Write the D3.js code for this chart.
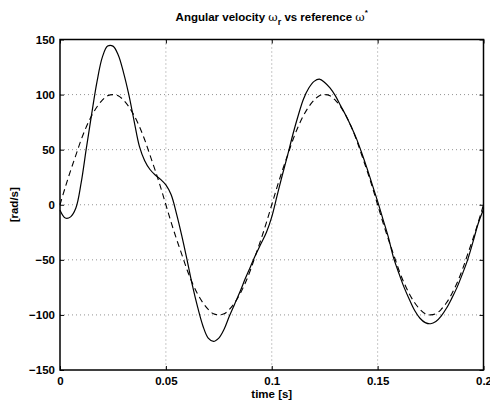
<!DOCTYPE html>
<html><head><meta charset="utf-8">
<script src="https://cdn.jsdelivr.net/npm/d3@7"></script>
<style>
body{margin:0;background:#fff;}
text{font-family:"Liberation Sans",Arial,Helvetica,sans-serif;font-weight:bold;}
</style></head>
<body><svg id="chart" width="490" height="403"></svg>
<script>
// time samples (s)
const timeStep = 0.0025;
const timeValues = d3.range(0, 81).map(i => +(i * timeStep).toFixed(4));
const omegaR = [-5,-12,-11,-3,20,52,83,112,134,144,144,136,120,100,76,53,40,32,27,23,18,9,-8,-28,-50,-73,-93,-110,-121,-124,-121,-113,-101,-90,-79,-67,-56,-45,-35,-25,-11,8,27,45,64,81,96,106,112,114,111,106,99,90,81,71,60,47,33,18,3,-13,-29,-48,-62,-75,-86,-96,-103,-107,-108,-106,-101,-94,-85,-75,-63,-50,-34,-17,-4];
// reference omega* (rad/s)
const omegaRef = [0,16,31,45,59,71,81,89,95,99,100,99,95,89,81,71,59,45,31,16,0,-16,-31,-45,-59,-71,-81,-89,-95,-99,-100,-99,-95,-89,-81,-71,-59,-45,-31,-16,0,16,31,45,59,71,81,89,95,99,100,99,95,89,81,71,59,45,31,16,0,-16,-31,-45,-59,-71,-81,-89,-95,-99,-100,-99,-95,-89,-81,-71,-59,-45,-31,-16,0];
const xTicks = [0, 0.05, 0.1, 0.15, 0.2];
const xTickLabels = ["0", "0.05", "0.1", "0.15", "0.2"];
const yTicks = [-150, -100, -50, 0, 50, 100, 150];
const yTickLabels = ["\u2212150", "\u2212100", "\u221250", "0", "50", "100", "150"];

const svg = d3.select("#chart");
const L = 60, R = 483.5, T = 39.5, B = 370;
const x = d3.scaleLinear().domain([0, 0.2]).range([L, R]);
const y = d3.scaleLinear().domain([-150, 150]).range([B, T]);

// grid
const grid = svg.append("g").attr("stroke", "#777").attr("stroke-width", 0.8).attr("stroke-dasharray", "1,3");
grid.selectAll(".gx").data(xTicks.slice(1, -1)).enter().append("line")
  .attr("x1", d => x(d)).attr("x2", d => x(d)).attr("y1", T).attr("y2", B);
grid.selectAll(".gy").data(yTicks.slice(1, -1)).enter().append("line")
  .attr("y1", d => y(d)).attr("y2", d => y(d)).attr("x1", L).attr("x2", R);

// lines
const line = d3.line().x((d, i) => x(timeValues[i])).y(d => y(d)).curve(d3.curveCatmullRom.alpha(0.5));
svg.append("path").datum(omegaRef).attr("d", line).attr("fill", "none")
  .attr("stroke", "#000").attr("stroke-width", 1.1).attr("stroke-dasharray", "6,4");
svg.append("path").datum(omegaR).attr("d", line).attr("fill", "none")
  .attr("stroke", "#000").attr("stroke-width", 1.2);

// axes (ticks inside)
const xAxis = d3.axisBottom(x).tickValues(xTicks).tickFormat((d, i) => xTickLabels[i]).tickSizeInner(-4).tickSizeOuter(0).tickPadding(7);
const gx = svg.append("g").attr("transform", `translate(0,${B})`).call(xAxis);
const yAxis = d3.axisLeft(y).tickValues(yTicks).tickFormat((d, i) => yTickLabels[i]).tickSizeInner(-4).tickSizeOuter(0).tickPadding(5);
const gy = svg.append("g").attr("transform", `translate(${L},0)`).call(yAxis);
svg.append("g").attr("transform", `translate(0,${T})`).call(d3.axisTop(x).tickValues(xTicks).tickFormat("").tickSizeInner(-4).tickSizeOuter(0));
svg.append("g").attr("transform", `translate(${R},0)`).call(d3.axisRight(y).tickValues(yTicks).tickFormat("").tickSizeInner(-4).tickSizeOuter(0));
svg.selectAll(".domain").remove();
svg.selectAll(".tick line").attr("stroke", "#000");
[gx, gy].forEach(g => g.selectAll("text").attr("font-size", 11.5).attr("font-weight", "bold").attr("fill", "#000").attr("font-family", "Liberation Sans, Arial, sans-serif"));

// frame
svg.append("rect").attr("x", L).attr("y", T).attr("width", R - L).attr("height", B - T)
  .attr("fill", "none").attr("stroke", "#000").attr("stroke-width", 1.5);

// title
const title = svg.append("text").attr("x", (L + R) / 2).attr("y", 21).attr("text-anchor", "middle").attr("font-size", 11.5);
title.append("tspan").text("Angular velocity ");
title.append("tspan").attr("font-family", "DejaVu Serif, serif").attr("font-weight", "normal").text("\u03c9");
title.append("tspan").attr("dy", 4).attr("font-size", 9).text("r");
title.append("tspan").attr("dy", -4).text(" vs reference ");
title.append("tspan").attr("font-family", "DejaVu Serif, serif").attr("font-weight", "normal").text("\u03c9");
title.append("tspan").attr("dy", -6).attr("font-size", 8).text("*");

// axis labels
svg.append("text").attr("x", (L + R) / 2).attr("y", 398).attr("text-anchor", "middle").attr("font-size", 11.5).text("time [s]");
svg.append("text").attr("transform", `translate(18,${(T + B) / 2}) rotate(-90)`).attr("text-anchor", "middle").attr("font-size", 11.5).text("[rad/s]");
</script></body></html>
